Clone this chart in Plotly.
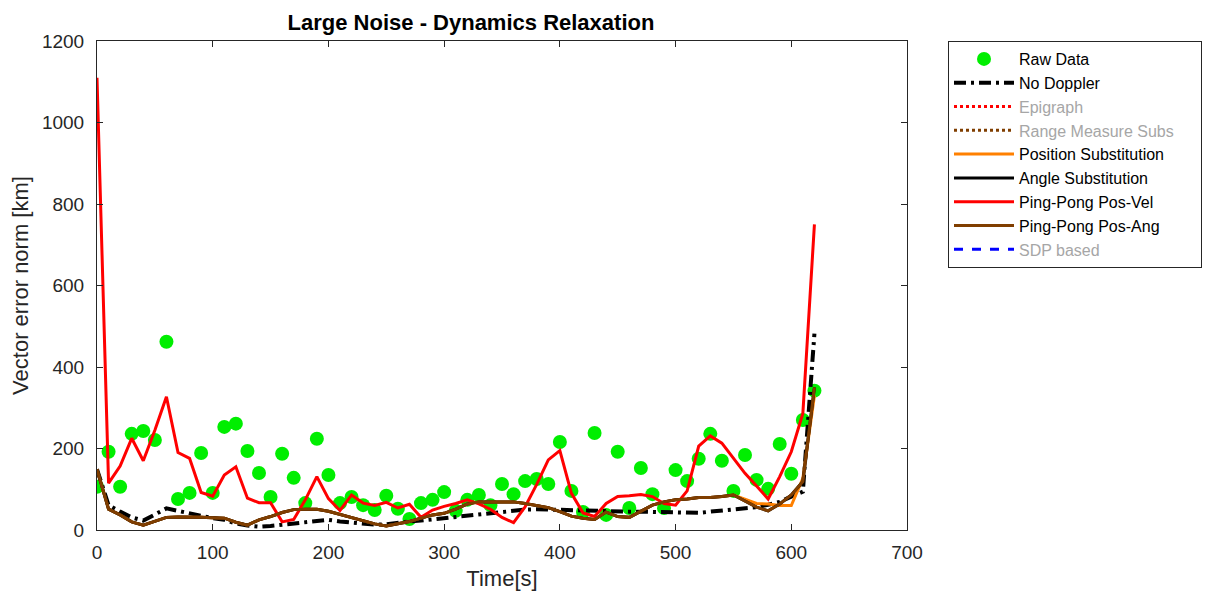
import plotly.graph_objects as go

t = list(range(0, 630, 10))

raw_data = [106, 192, 106, 236, 243, 221, 462, 76, 91, 189,
            91, 253, 261, 194, 140, 81, 187, 128, 66, 224,
            135, 66, 81, 61, 49, 84, 52, 27, 66, 74,
            93, 47, 74, 86, 61, 113, 88, 120, 125, 113,
            216, 96, 44, 238, 37, 192, 54, 152, 88, 54,
            147, 120, 175, 236, 170, 96, 184, 123, 101, 211,
            138, 270, 342]

no_doppler = [149, 61, 45, 31, 23, 37, 53, 47, 41, 34,
              29, 25, 16, 11, 8, 10, 13, 17, 20, 23,
              25, 21, 19, 16, 13, 14, 18, 21, 23, 26,
              29, 33, 37, 40, 43, 46, 49, 50, 51, 50,
              49, 48, 47, 47, 47, 45, 45, 45, 44, 43,
              42, 41, 42, 45, 48, 51, 53, 56, 62, 69,
              82, 94, 482]

pp_pos_vel = [1110, 115, 157, 225, 170, 245, 327, 190, 176, 92,
              83, 135, 155, 78, 67, 67, 20, 26, 74, 131,
              77, 48, 86, 66, 60, 68, 54, 63, 31, 49,
              58, 65, 74, 64, 51, 31, 18, 57, 112, 172,
              195, 90, 42, 33, 65, 82, 84, 87, 82, 65,
              61, 96, 206, 231, 213, 176, 139, 108, 76, 131,
              192, 286, 750]

pp_pos_ang = [149, 51, 37, 20, 12, 22, 31, 32, 32, 31,
              30, 29, 19, 12, 25, 33, 43, 50, 51, 51,
              46, 38, 30, 22, 15, 10, 16, 21, 29, 37,
              41, 51, 64, 69, 69, 69, 69, 65, 60, 55,
              45, 34, 29, 26, 44, 33, 31, 47, 61, 69,
              74, 76, 80, 80, 82, 86, 71, 56, 47, 64,
              86, 119, 350]

pos_subst = [149, 51, 37, 20, 12, 22, 31, 32, 32, 31,
             30, 29, 19, 12, 25, 33, 43, 50, 51, 51,
             46, 38, 30, 22, 15, 10, 16, 21, 29, 37,
             41, 51, 64, 69, 69, 69, 69, 65, 60, 55,
             45, 34, 29, 26, 44, 33, 31, 47, 61, 69,
             74, 76, 80, 80, 82, 86, 75, 65, 64, 60,
             60, 127, 330]

angle_subst = list(pp_pos_ang)

GRAY = "#a6a6a6"
FONT = "Liberation Sans, Arial, Helvetica, sans-serif"
PAD = "&nbsp;" * 5

fig = go.Figure()
fig.add_trace(go.Scatter(x=t, y=raw_data, mode="markers", name="Raw Data",
                         marker=dict(color="#00ee00", size=14, line=dict(width=0))))
fig.add_trace(go.Scatter(x=t, y=no_doppler, mode="lines", name="No Doppler",
                         line=dict(color="black", width=4, dash="12px,5px,3px,5px")))
fig.add_trace(go.Scatter(x=[None], y=[None], mode="lines",
                         name=f'<span style="color:{GRAY}">Epigraph</span>',
                         line=dict(color="red", width=3, dash="dot")))
fig.add_trace(go.Scatter(x=[None], y=[None], mode="lines",
                         name=f'<span style="color:{GRAY}">Range Measure Subs</span>{PAD}',
                         line=dict(color="#803e00", width=3, dash="dot")))
fig.add_trace(go.Scatter(x=t, y=pos_subst, mode="lines", name="Position Substitution",
                         line=dict(color="#ff8000", width=3)))
fig.add_trace(go.Scatter(x=t, y=angle_subst, mode="lines", name="Angle Substitution",
                         line=dict(color="black", width=3)))
fig.add_trace(go.Scatter(x=t, y=pp_pos_vel, mode="lines", name="Ping-Pong Pos-Vel",
                         line=dict(color="#ff0000", width=3)))
fig.add_trace(go.Scatter(x=t, y=pp_pos_ang, mode="lines", name="Ping-Pong Pos-Ang",
                         line=dict(color="#803e00", width=3)))
fig.add_trace(go.Scatter(x=[None], y=[None], mode="lines",
                         name=f'<span style="color:{GRAY}">SDP based</span>',
                         line=dict(color="blue", width=3, dash="dash")))

axis_common = dict(showgrid=False, zeroline=False, showline=True, linecolor="#262626",
                   linewidth=1, mirror="ticks", ticks="inside", ticklen=6,
                   tickcolor="#262626", automargin=False,
                   tickfont=dict(size=19, color="#262626", family=FONT))

# page body has an 8px offset; figure is sized so plot area lands on the reference's pixels
W, H = 1207, 583
L, T, R, B = 89, 33, 1207 - 899, 583 - 522

fig.update_layout(
    width=W, height=H,
    margin=dict(l=L, r=R, t=T, b=B, autoexpand=False),
    plot_bgcolor="white", paper_bgcolor="white",
    font=dict(family=FONT, color="black"),
    title=dict(text="<b>Large Noise - Dynamics Relaxation</b>", x=463 / W,
               xanchor="center", y=1 - 14 / H, yanchor="middle",
               font=dict(size=22, color="black", family=FONT)),
    xaxis=dict(range=[0, 700], dtick=100, ticklabelstandoff=5,
               title=dict(text="Time[s]", standoff=14,
                          font=dict(size=22, color="#262626", family=FONT)), **axis_common),
    yaxis=dict(range=[0, 1200], dtick=200, ticklabelstandoff=8,
               title=dict(text="Vector error norm [km]", standoff=14,
                          font=dict(size=22, color="#262626", family=FONT)), **axis_common),
    legend=dict(x=(940 - L) / (899 - L), y=1.0, xanchor="left", yanchor="top",
                bordercolor="#262626", borderwidth=1, bgcolor="white",
                font=dict(size=16, color="black", family=FONT), itemwidth=60,
                tracegroupgap=0),
    showlegend=True,
)

fig.write_html("out.html")
